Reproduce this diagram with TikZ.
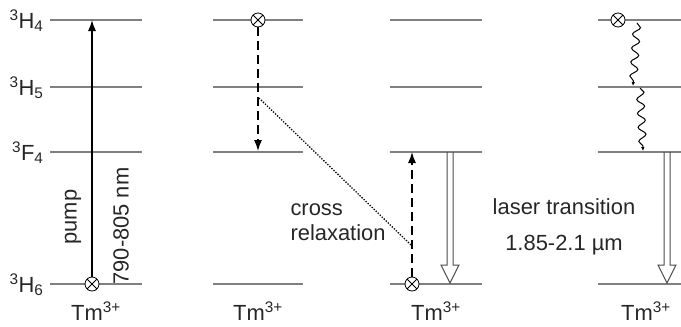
\documentclass[tikz,border=0pt]{standalone}
\usepackage{fontspec}
\setmainfont{Liberation Sans}
\usetikzlibrary{arrows.meta,positioning,calc,decorations.pathmorphing}

\begin{document}
\begin{tikzpicture}[x=1bp,y=-1bp,>=Latex,
  every node/.style={font=\fontsize{22}{25}\selectfont,text=black!85},
  level/.style={draw=black!50,line width=1.3bp},
  ion/.style={draw,circle,fill=white,minimum size=14bp,inner sep=0pt,line width=0.8bp,
    path picture={\draw (path picture bounding box.south west) -- (path picture bounding box.north east)
      (path picture bounding box.north west) -- (path picture bounding box.south east);}},
  trans/.style={-{Latex[length=11bp,width=8bp]},line width=1.3bp},
  dashtrans/.style={trans,dash pattern=on 9bp off 5bp},
  crossline/.style={line width=1.3bp,dash pattern=on 1.3bp off 1.5bp},
  hollow/.style={draw=black!70,line width=1bp},
  wavy/.style={-{Latex[length=4bp,width=3.5bp]},line width=1bp,decorate,
    decoration={snake,amplitude=3.8bp,segment length=14bp,post length=3bp}}]
  \useasboundingbox (0,0) rectangle (681,326);
  \clip (0,0) rectangle (681,326);

  % energy levels of the four ions
  \foreach \c/\xl/\xr in {1/50/142,2/213/303,3/390/482,4/598/694}{
    \foreach \y in {20,87,152,284}
      \draw[level] (\xl,\y) -- (\xr,\y);
    \node[anchor=base] (tm\c) at ({(\xl+\xr)/2},320) {Tm\textsuperscript{3+}};
  }
  \node[anchor=base east] (lH4) at (47,28) {\textsuperscript{3}H\textsubscript{4}};
  \node[anchor=base east] (lH5) at (47,95) {\textsuperscript{3}H\textsubscript{5}};
  \node[anchor=base east] (lF4) at (47,160) {\textsuperscript{3}F\textsubscript{4}};
  \node[anchor=base east] (lH6) at (47,292) {\textsuperscript{3}H\textsubscript{6}};

  % pump
  \node[ion] (g1) at (92,284) {};
  \coordinate (p1) at (92,20);
  \draw[trans] (g1) -- (p1);
  \node[rotate=90] (pump) at (73,217) {pump};
  \node[rotate=90] (wl) at (121,226) {790-805 nm};

  % cross relaxation
  \node[ion] (g2) at (258,20) {};
  \coordinate (d2) at (258,151);
  \draw[dashtrans] (g2) -- (d2);
  \node[ion] (g3) at (412,284) {};
  \coordinate (u3) at (412,152);
  \draw[dashtrans] (g3) -- (u3);
  \coordinate (cr2) at (259,98);
  \coordinate (cr3) at (411,245);
  \draw[crossline] (cr2) -- (cr3);
  \node[anchor=west,align=left] (crx) at (287,222) {cross\\relaxation};

  % nonradiative decay
  \node[ion] (g4) at (618,20) {};
  \coordinate (w1) at (637,23);
  \coordinate (w2) at (633,86);
  \coordinate (w3) at (640,88);
  \coordinate (w4) at (643,151);
  \draw[wavy] (w1) -- (w2);
  \draw[wavy] (w3) -- (w4);

  % laser transition
  \foreach \x [count=\i] in {450,667}{
    \coordinate (lt\i) at (\x,152);
    \coordinate (lb\i) at (\x,283);
    \draw[hollow] ($(lt\i)+(-3,0)$) -- ($(lb\i)+(-3,-18)$) -- ++(-6,0) -- (lb\i)
      -- ($(lb\i)+(9,-18)$) -- ++(-6,0) -- ($(lt\i)+(3,0)$);
  }
  \node (lasertxt) at (564,207) {laser transition};
  \node (laserwl) at (564,245) {1.85-2.1 µm};
\end{tikzpicture}
\end{document}
